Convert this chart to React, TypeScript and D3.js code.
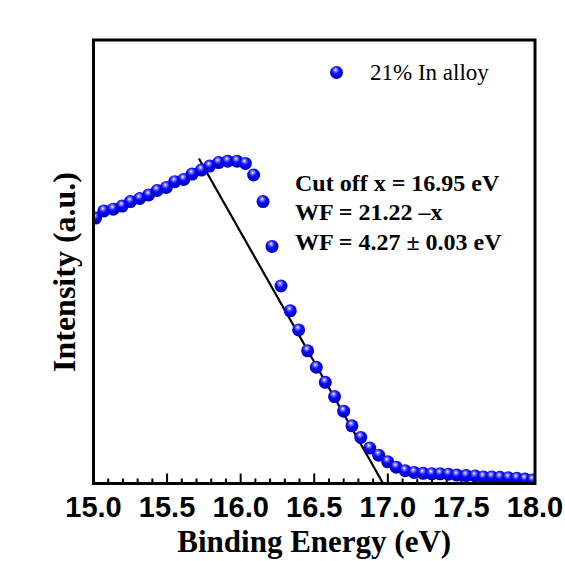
import React from "react";
import * as d3 from "d3";

const energies = [
  15.014, 15.07, 15.134, 15.195, 15.251, 15.314, 15.375, 15.432, 15.495, 15.552,
  15.613, 15.67, 15.733, 15.789, 15.85, 15.912, 15.975, 16.032, 16.088, 16.152,
  16.213, 16.274, 16.337, 16.394, 16.455, 16.514, 16.575, 16.638, 16.7, 16.756,
  16.816, 16.877, 16.938, 16.999, 17.057, 17.118, 17.179, 17.24, 17.299, 17.355,
  17.412, 17.469, 17.532, 17.593, 17.649, 17.706, 17.762, 17.819, 17.876, 17.932,
  17.984,
];
const intensities = [
  59.9, 61.5, 61.9, 62.6, 63.6, 64.3, 65.1, 66.1, 66.8, 68.1,
  68.6, 69.8, 70.7, 71.6, 72.4, 72.7, 72.7, 72.2, 69.6, 63.6,
  53.5, 44.6, 39.0, 34.7, 30.0, 26.3, 22.9, 19.7, 16.4, 13.1,
  10.5, 8.1, 6.5, 5.0, 3.8, 3.0, 2.6, 2.4, 2.3, 2.3,
  2.2, 2.0, 1.9, 1.8, 1.6, 1.6, 1.5, 1.4, 1.3, 1.1,
  0.9,
];
const fitX = [15.716, 16.97];
const fitY = [73.3, 0];
const xMajorTicks = [15.0, 15.5, 16.0, 16.5, 17.0, 17.5, 18.0];
const seriesName = "21% In alloy";
const notes = ["Cut off x = 16.95 eV", "WF = 21.22 \u2013x", "WF = 4.27 \u00b1 0.03 eV"];

const W = 565;
const H = 561;
const L = 93.5, R = 535, T = 40, B = 483.5;

export default function App() {
  const x = d3.scaleLinear().domain([15, 18]).range([L, R]);
  const y = d3.scaleLinear().domain([0, 100]).range([484, 40]);
  const minorTicks = d3.range(150, 181).map((v) => v / 10);
  const line = d3
    .line<number>()
    .x((_, i) => x(fitX[i]))
    .y((d) => y(d));

  return (
    <svg
      width={W}
      height={H}
      style={{ position: "absolute", left: 0, top: 0, background: "#fff" }}
    >
      <defs>
        <radialGradient id="ball" cx="0.45" cy="0.35" r="0.65" fx="0.42" fy="0.3">
          <stop offset="0" stopColor="#ffffff" />
          <stop offset="0.18" stopColor="#8080ff" />
          <stop offset="0.45" stopColor="#0a0aff" />
          <stop offset="1" stopColor="#0000b0" />
        </radialGradient>
        <clipPath id="plot">
          <rect x={L} y={T} width={R - L} height={B - T} />
        </clipPath>
      </defs>
      <rect x={0} y={0} width={W} height={H} fill="#fff" />

      {minorTicks.map((t) => {
        const major = Math.abs(t * 2 - Math.round(t * 2)) < 1e-6;
        return (
          <line
            key={t}
            x1={x(t)}
            x2={x(t)}
            y1={B}
            y2={B - (major ? 10 : 5)}
            stroke="#000"
            strokeWidth={2}
          />
        );
      })}

      <path d={line(fitY) || ""} stroke="#000" strokeWidth={2.2} fill="none" />

      <g clipPath="url(#plot)">
        {energies.map((e, i) => (
          <circle key={i} cx={x(e)} cy={y(intensities[i])} r={6.5} fill="url(#ball)" />
        ))}
      </g>

      <rect x={L} y={T} width={R - L} height={B - T} fill="none" stroke="#000" strokeWidth={3} />

      {xMajorTicks.map((t) => (
        <text
          key={t}
          x={x(t)}
          y={517}
          textAnchor="middle"
          fontFamily="Liberation Sans, Arial, sans-serif"
          fontWeight="bold"
          fontSize={29}
          fill="#000"
        >
          {t.toFixed(1)}
        </text>
      ))}

      <text
        x={(L + R) / 2}
        y={552}
        textAnchor="middle"
        fontFamily="Liberation Serif, Times New Roman, serif"
        fontWeight="bold"
        fontSize={31}
        fill="#000"
      >
        Binding Energy (eV)
      </text>
      <text
        transform={`translate(75,${272}) rotate(-90)`}
        textAnchor="middle"
        fontFamily="Liberation Serif, Times New Roman, serif"
        fontWeight="bold"
        fontSize={32}
        fill="#000"
      >
        Intensity (a.u.)
      </text>

      <circle cx={336.5} cy={72.5} r={6.5} fill="url(#ball)" />
      <text
        x={370}
        y={80}
        fontFamily="Liberation Serif, Times New Roman, serif"
        fontSize={23}
        fill="#000"
      >
        {seriesName}
      </text>

      {notes.map((n, i) => (
        <text
          key={i}
          x={295}
          y={190.5 + i * 29.5}
          fontFamily="Liberation Serif, Times New Roman, serif"
          fontWeight="bold"
          fontSize={24}
          fill="#000"
        >
          {n}
        </text>
      ))}
    </svg>
  );
}
